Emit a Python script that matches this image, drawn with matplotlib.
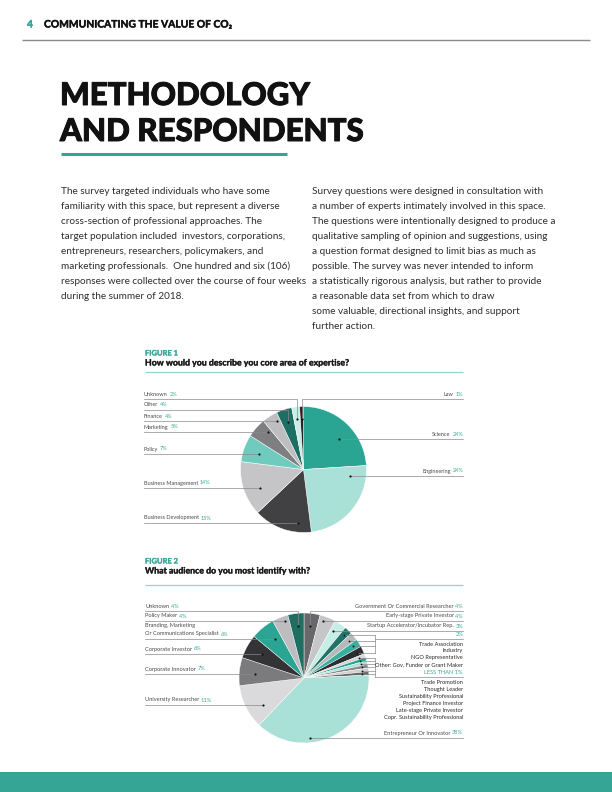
import matplotlib
matplotlib.use('Agg')
import matplotlib.pyplot as plt
from matplotlib.patches import Rectangle
import matplotlib.patheffects as pe
import numpy as np

# ---------------- data ----------------
header_number = '4'
header_title = 'COMMUNICATING THE VALUE OF CO₂'
page_title = ['METHODOLOGY', 'AND RESPONDENTS']
left_paragraph = [
    'The survey targeted individuals who have some',
    'familiarity with this space, but represent a diverse',
    'cross-section of professional approaches. The',
    'target population included  investors, corporations,',
    'entrepreneurs, researchers, policymakers, and',
    'marketing professionals.  One hundred and six (106)',
    'responses were collected over the course of four weeks',
    'during the summer of 2018.',
]
right_paragraph = [
    'Survey questions were designed in consultation with',
    'a number of experts intimately involved in this space.',
    'The questions were intentionally designed to produce a',
    'qualitative sampling of opinion and suggestions, using',
    'a question format designed to limit bias as much as',
    'possible. The survey was never intended to inform',
    'a statistically rigorous analysis, but rather to provide',
    'a reasonable data set from which to draw',
    'some valuable, directional insights, and support',
    'further action.',
]

fig1_title = 'FIGURE 1'
fig1_question = 'How would you describe you core area of expertise?'
fig1_categories = ['Science', 'Engineering', 'Business Development', 'Business Management',
                   'Policy', 'Marketing', 'Finance', 'Other', 'Unknown', 'Law']
fig1_values = [24, 24, 15, 14, 7, 5, 4, 4, 2, 1]
fig1_colors = ['#2aa593', '#a9e0d8', '#414143', '#c5c5c7', '#6ecbbd',
               '#7f7f81', '#bebec0', '#1e6f63', '#c9ede7', '#262626']

fig2_title = 'FIGURE 2'
fig2_question = 'What audience do you most identify with?'
fig2_categories = ['Government Or Commercial Researcher', 'Early-stage Private Investor',
                   'Startup Accelerator/Incubator Rep.',
                   'Trade Association', 'Industry', 'NGO Representative',
                   'Other: Gov, Funder or Grant Maker',
                   'Trade Promotion', 'Thought Leader', 'Sustainability Professional',
                   'Project Finance Investor', 'Late-stage Private Investor',
                   'Copr. Sustainability Professional',
                   'Entrepreneur Or Innovator', 'University Researcher', 'Corporate Innovator',
                   'Corporate Investor', 'Branding, Marketing\nOr Communications Specialist',
                   'Policy Maker', 'Unknown']
fig2_values = [4, 4, 3, 2, 2, 2, 2, 0.9, 0.9, 0.9, 0.9, 0.9, 0.9, 38, 11, 7, 6, 6, 4, 4]
fig2_colors = ['#68686a', '#c6c6c8', '#c8ece6', '#1f7467', '#b8b8ba', '#36b09f', '#2e2e30',
               '#d6d6d8', '#2aa593', '#a9e0d8', '#8a8a8c', '#d0d0d2', '#6a6a6c',
               '#a9e0d8', '#dadadc', '#7b7b7d', '#343436', '#2aa593', '#bdbdbf', '#1e6e62']
fig2_group_2pct = ['Trade Association', 'Industry', 'NGO Representative',
                   'Other: Gov, Funder or Grant Maker']
fig2_group_lt1 = ['Trade Promotion', 'Thought Leader', 'Sustainability Professional',
                  'Project Finance Investor', 'Late-stage Private Investor',
                  'Copr. Sustainability Professional']
fig2_lt1_label = 'LESS THAN 1%'

# ---------------- layout ----------------
W, H = 612, 792
TEAL = '#33a595'
TEAL_TXT = '#3aa898'
TXT = '#2e2e2e'
LBL = '#4a4a4a'
FONT = ['Lato', 'DejaVu Sans']

fig = plt.figure(figsize=(6.12, 7.92), dpi=100)
ax = fig.add_axes([0, 0, 1, 1])


def reset():
    ax.set_xlim(0, W)
    ax.set_ylim(H, 0)
    ax.set_aspect('auto')
    ax.axis('off')


reset()
renderer = fig.canvas.get_renderer()
PX = 72 / 100.0  # points per pixel


def heavy(lw, color):
    return [pe.withStroke(linewidth=lw, foreground=color)]


def fit_size(text, target_px, weight='normal', base=10.0):
    t = ax.text(0, 0, text, fontsize=base, fontweight=weight, family=FONT)
    w = t.get_window_extent(renderer).width
    t.remove()
    return base * target_px / w


def text_right_edge(t):
    bb = t.get_window_extent(renderer)
    return ax.transData.inverted().transform((bb.x1, 0))[0]


def text_left_edge(t):
    bb = t.get_window_extent(renderer)
    return ax.transData.inverted().transform((bb.x0, 0))[0]


# header
hs = fit_size(header_title, 188, 'bold')
ax.text(27, 25, header_number, fontsize=hs, fontweight='bold', color=TEAL, family=FONT,
        ha='left', va='center', path_effects=heavy(0.3, TEAL))
ax.text(44, 25, header_title, fontsize=hs, fontweight='bold', color='#111111', family=FONT,
        ha='left', va='center', path_effects=heavy(0.3, '#111111'))
ax.plot([22, 590], [40, 40], color='#8a8a8a', lw=1.0, solid_capstyle='butt')

# title
ts1 = fit_size(page_title[0], 244, 'black')
ts2 = fit_size(page_title[1], 310, 'black')
ts = (ts1 + ts2) / 2
for txt, yb in zip(page_title, [105, 141]):
    ax.text(60, yb, txt, fontsize=ts, fontweight='black', color='#111111', family=FONT,
            ha='left', va='baseline', path_effects=heavy(0.7, '#111111'))
ax.plot([61, 287], [154, 154], color=TEAL, lw=3 * PX, solid_capstyle='butt')

# paragraphs
ps = (fit_size(left_paragraph[6], 241) + fit_size(right_paragraph[2], 248)) / 2
for i, line in enumerate(left_paragraph):
    ax.text(61, 191 + i * 15.1, line, fontsize=ps, color=TXT, family=FONT, ha='left', va='center')
for i, line in enumerate(right_paragraph):
    ax.text(312, 191 + i * 15.1, line, fontsize=ps, color=TXT, family=FONT, ha='left', va='center')

# figure headers
fs1 = fit_size(fig1_title, 33, 'bold')
qs = fit_size(fig1_question, 205, 'bold')
for (t, q, yt, yq, yl) in [(fig1_title, fig1_question, 353, 363, 372),
                           (fig2_title, fig2_question, 561, 571, 585)]:
    ax.text(145, yt, t, fontsize=fs1, fontweight='bold', color=TEAL_TXT, family=FONT,
            ha='left', va='center', path_effects=heavy(0.2, TEAL_TXT))
    ax.text(145, yq, q, fontsize=qs, fontweight='bold', color='#1a1a1a', family=FONT,
            ha='left', va='center', path_effects=heavy(0.2, '#1a1a1a'))
    ax.plot([145, 463], [yl, yl], color='#94d5cb', lw=0.9, solid_capstyle='butt')


def in_slice(ang, lo, hi):
    a = (ang - lo) % 360 + lo
    return lo <= a <= hi


def find_dot(w, cx, cy, r, ly, side):
    lo, hi = -w.theta2, -w.theta1
    m = min(0.2 * (hi - lo), 5)
    lo2, hi2 = lo + m, hi - m
    dy = ly - cy
    best = None
    for rho in np.linspace(0.3, 0.93, 120) * r:
        if abs(dy) >= rho:
            continue
        dx = side * np.sqrt(rho ** 2 - dy ** 2)
        ang = np.degrees(np.arctan2(-dy, dx))
        if in_slice(ang, lo2, hi2):
            score = abs(rho - 0.75 * r)
            if best is None or score < best[0]:
                best = (score, cx + dx, ly)
    if best:
        return best[1], best[2], False
    mid = np.radians((lo + hi) / 2)
    return cx + 0.8 * r * np.cos(mid), cy - 0.8 * r * np.sin(mid), True


def draw_label(name, pct, side, y, x_edge, size, line_gap=8):
    lines = name.split('\n')
    gap = size / PX * 0.3
    for k, ln in enumerate(lines[:-1]):
        yy = y - (len(lines) - 1 - k) * line_gap
        ax.text(x_edge, yy, ln, fontsize=size, color=LBL, family=FONT,
                ha='left' if side < 0 else 'right', va='center')
    last = lines[-1]
    if side < 0:
        t = ax.text(x_edge, y, last, fontsize=size, color=LBL, family=FONT, ha='left', va='center')
        ax.text(text_right_edge(t) + gap, y, pct, fontsize=size, color=TEAL_TXT, family=FONT,
                ha='left', va='center')
    else:
        t = ax.text(x_edge, y, pct, fontsize=size, color=TEAL_TXT, family=FONT, ha='right',
                    va='center')
        ax.text(text_left_edge(t) - gap, y, last, fontsize=size, color=LBL, family=FONT,
                ha='right', va='center')


def leader(x_edge, ly, dot, color='#8a8a8a'):
    dx, dy, elbow = dot
    if elbow:
        ax.plot([x_edge, dx, dx], [ly, ly, dy], color=color, lw=0.5)
    else:
        ax.plot([x_edge, dx], [ly, ly], color=color, lw=0.5)
    ax.plot([dx], [dy], 'o', ms=1.6, color='#111111', mec='none')


LEFT_X, RIGHT_X = 144, 463

# -------- figure 1 --------
c1 = (303.5, 469.5)
r1 = 63
wedges1, _ = ax.pie(fig1_values, colors=fig1_colors, startangle=-90, counterclock=True,
                    center=c1, radius=r1, wedgeprops=dict(edgecolor='white', linewidth=0.35))
reset()
fig1_layout = {'Science': (1, 434), 'Engineering': (1, 471), 'Business Development': (-1, 518),
               'Business Management': (-1, 483), 'Policy': (-1, 449), 'Marketing': (-1, 427),
               'Finance': (-1, 416), 'Other': (-1, 405), 'Unknown': (-1, 394), 'Law': (1, 394)}
ls1 = fit_size('Business Development 15%', 68)
for cat, val, w in zip(fig1_categories, fig1_values, wedges1):
    side, y = fig1_layout[cat]
    xe = LEFT_X if side < 0 else RIGHT_X
    draw_label(cat, f'{val:g}%', side, y, xe, ls1)
    ly = y + 4.5
    leader(xe, ly, find_dot(w, c1[0], c1[1], r1, ly, side))

# -------- figure 2 --------
c2 = (304, 678)
r2 = 65
wedges2, _ = ax.pie(fig2_values, colors=fig2_colors, startangle=-90, counterclock=True,
                    center=c2, radius=r2, wedgeprops=dict(edgecolor='white', linewidth=0.3))
reset()
fig2_layout = {'Government Or Commercial Researcher': (1, 606),
               'Early-stage Private Investor': (1, 616),
               'Startup Accelerator/Incubator Rep.': (1, 626),
               'Entrepreneur Or Innovator': (1, 733),
               'University Researcher': (-1, 700), 'Corporate Innovator': (-1, 669),
               'Corporate Investor': (-1, 649),
               'Branding, Marketing\nOr Communications Specialist': (-1, 634),
               'Policy Maker': (-1, 616), 'Unknown': (-1, 606)}
ls2 = fit_size('Government Or Commercial Researcher 4%', 109)
wmap = dict(zip(fig2_categories, wedges2))
vmap = dict(zip(fig2_categories, fig2_values))
for cat, (side, y) in fig2_layout.items():
    xe = LEFT_X + 1 if side < 0 else RIGHT_X
    draw_label(cat, f'{vmap[cat]:g}%', side, y, xe, ls2)
    ly = y + 4.5
    leader(xe, ly, find_dot(wmap[cat], c2[0], c2[1], r2, ly, side))

# grouped labels on the right
BRACKET_X = 375


def group(head, members, y_head, y0, step):
    ax.text(RIGHT_X, y_head, head, fontsize=ls2, color=TEAL_TXT, family=FONT, ha='right',
            va='center')
    for k, m in enumerate(members):
        ax.text(RIGHT_X, y0 + k * step, m, fontsize=ls2, color='#2a2a2a', family=FONT,
                ha='right', va='center')
    ly = y_head + 4
    ys = [ly]
    for m in members:
        w = wmap[m]
        mid = np.radians(-(w.theta1 + w.theta2) / 2)
        dx = c2[0] + 0.9 * r2 * np.cos(mid)
        dy = c2[1] - 0.9 * r2 * np.sin(mid)
        ax.plot([BRACKET_X, dx], [dy, dy], color='#8a8a8a', lw=0.5)
        ax.plot([dx], [dy], 'o', ms=1.3, color='#111111', mec='none')
        ys.append(dy)
    ax.plot([RIGHT_X, BRACKET_X], [ly, ly], color='#8a8a8a', lw=0.5)
    ax.plot([BRACKET_X, BRACKET_X], [min(ys), max(ys)], color='#8a8a8a', lw=0.5)


group(f'{vmap[fig2_group_2pct[0]]:g}%', fig2_group_2pct, 635, 644, 6.8)
group(fig2_lt1_label, fig2_group_lt1, 673, 682, 7.2)

# bottom band
ax.add_patch(Rectangle((0, 772), W, 20, facecolor='#35a596', edgecolor='none'))

fig.savefig('out.png', dpi=100)
